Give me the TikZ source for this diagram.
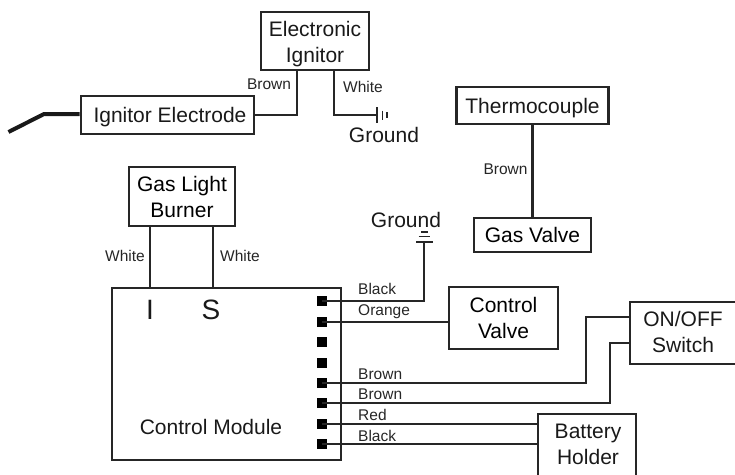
\documentclass[tikz,border=0pt]{standalone}
\usepackage{fontspec}
\setmainfont{Liberation Sans}
\begin{document}
\begin{tikzpicture}[x=1pt,y=-1pt,
  box/.style={draw=black!85,line width=2.6pt,inner sep=0pt,align=center,font=\fontsize{21}{26}\selectfont,anchor=center},
  wire/.style={draw=black!85,line width=2.3pt,line join=miter},
  gnd/.style={draw=black!85,line width=1.9pt},
  lbl/.style={font=\fontsize{15.5}{17}\selectfont,inner sep=0pt,text=black!85},
  tag/.style={font=\fontsize{15.5}{17}\selectfont,inner sep=0pt,anchor=west,text=black!85},
  big/.style={font=\fontsize{21}{24}\selectfont,inner sep=0pt,text=black!90},
  pin/.style={fill=black,inner sep=0pt,minimum size=10pt}]
\useasboundingbox (0,0) rectangle (735,474);
\clip (0,0) rectangle (735,474);
% boxes
\node[box,minimum width=108pt,minimum height=58pt] (ign) at (315,41) {};
\node[big,align=center,font=\fontsize{21}{26}\selectfont] (ignt) at (315,44) {Electronic\\Ignitor};
\node[box,minimum width=173pt,minimum height=38pt] (elec) at (167.5,115) {};
\node[big] (elect) at (170,117.5) {Ignitor Electrode};
\node[box,minimum width=152pt,minimum height=37pt] (thermo) at (532.5,105.5) {};
\node[big] (thermot) at (532.5,108.5) {Thermocouple};
\node[box,minimum width=117pt,minimum height=34pt] (gasv) at (532.5,235) {Gas Valve};
\node[box,minimum width=106pt,minimum height=59pt] (burner) at (182,196.5) {Gas Light\\Burner};
\node[box,minimum width=229pt,minimum height=172pt] (cm) at (226.5,374) {};
\node[box,minimum width=109pt,minimum height=62pt] (cv) at (503.5,318) {Control\\Valve};
\node[box,minimum width=106pt,minimum height=62pt] (sw) at (683,333) {};
\node[big,align=center,font=\fontsize{21}{26}\selectfont] (swt) at (683,332) {ON/OFF\\Switch};
\node[box,minimum width=98pt,minimum height=90pt] (bat) at (587,459) {};
\node[big,align=center,font=\fontsize{21}{26}\selectfont] (batt) at (588,444.5) {Battery\\Holder};
% module text
\node[big,font=\fontsize{28}{30}\selectfont] (mi) at (150,310) {I};
\node[big,font=\fontsize{28}{30}\selectfont] (ms) at (211,310) {S};
\node[big] (mt) at (211,427) {Control Module};
% pins
\foreach \n/\y in {a/301,b/322,c/342,d/363,e/383,f/403,g/424,h/444}
  \node[pin] (p\n) at (322,\y) {};
% electrode lead
\coordinate (tipa) at (8.5,132);
\coordinate (tipb) at (44,114);
\draw[draw=black!90,line width=4pt] (tipa) -- (tipb) -- (elec.west |- tipb);
% ignitor wires
\coordinate (gi) at (377,115);
\draw[wire] (elec.east) -| (297,70);
\draw[wire] (334,70) |- (gi);
\draw[gnd] (377,107) -- (377,123);
\draw[gnd] (382.5,110.5) -- (382.5,119.5);
\draw[gnd] (387,112) -- (387,118);
\node[big] (g1) at (384,134.5) {Ground};
\node[lbl] (l1) at (269,84) {Brown};
\node[lbl] (l2) at (363,87) {White};
% thermocouple
\draw[wire] (thermo.south) -- (gasv.north);
\node[lbl] (l3) at (505.5,169) {Brown};
% burner
\draw[wire] (150,226) -- (150,288);
\draw[wire] (213,226) -- (213,288);
\node[lbl] (l4) at (125,255.5) {White};
\node[lbl] (l5) at (240,255.5) {White};
% right side wires
\coordinate (gt) at (424,242);
\draw[wire] (pa.center) -| (gt);
\draw[gnd] (416,242) -- (433,242);
\draw[gnd] (418.5,236.5) -- (430,236.5);
\draw[gnd] (421,232) -- (428,232);
\node[big] (g2) at (406,220) {Ground};
\draw[wire] (pb.center) -- (cv.west |- pb);
\draw[wire] (pe.center) -| (586,317) -- (sw.west |- 0,317);
\draw[wire] (pf.center) -| (610,343) -- (sw.west |- 0,343);
\draw[wire] (pg.center) -- (bat.west |- pg);
\draw[wire] (ph.center) -- (bat.west |- ph);
\node[tag] at (358,289) {Black};
\node[tag] at (358,312) {Orange};
\node[tag] at (358,374) {Brown};
\node[tag] at (358,394) {Brown};
\node[tag] at (358,415) {Red};
\node[tag] at (358,436) {Black};
\end{tikzpicture}
\end{document}
